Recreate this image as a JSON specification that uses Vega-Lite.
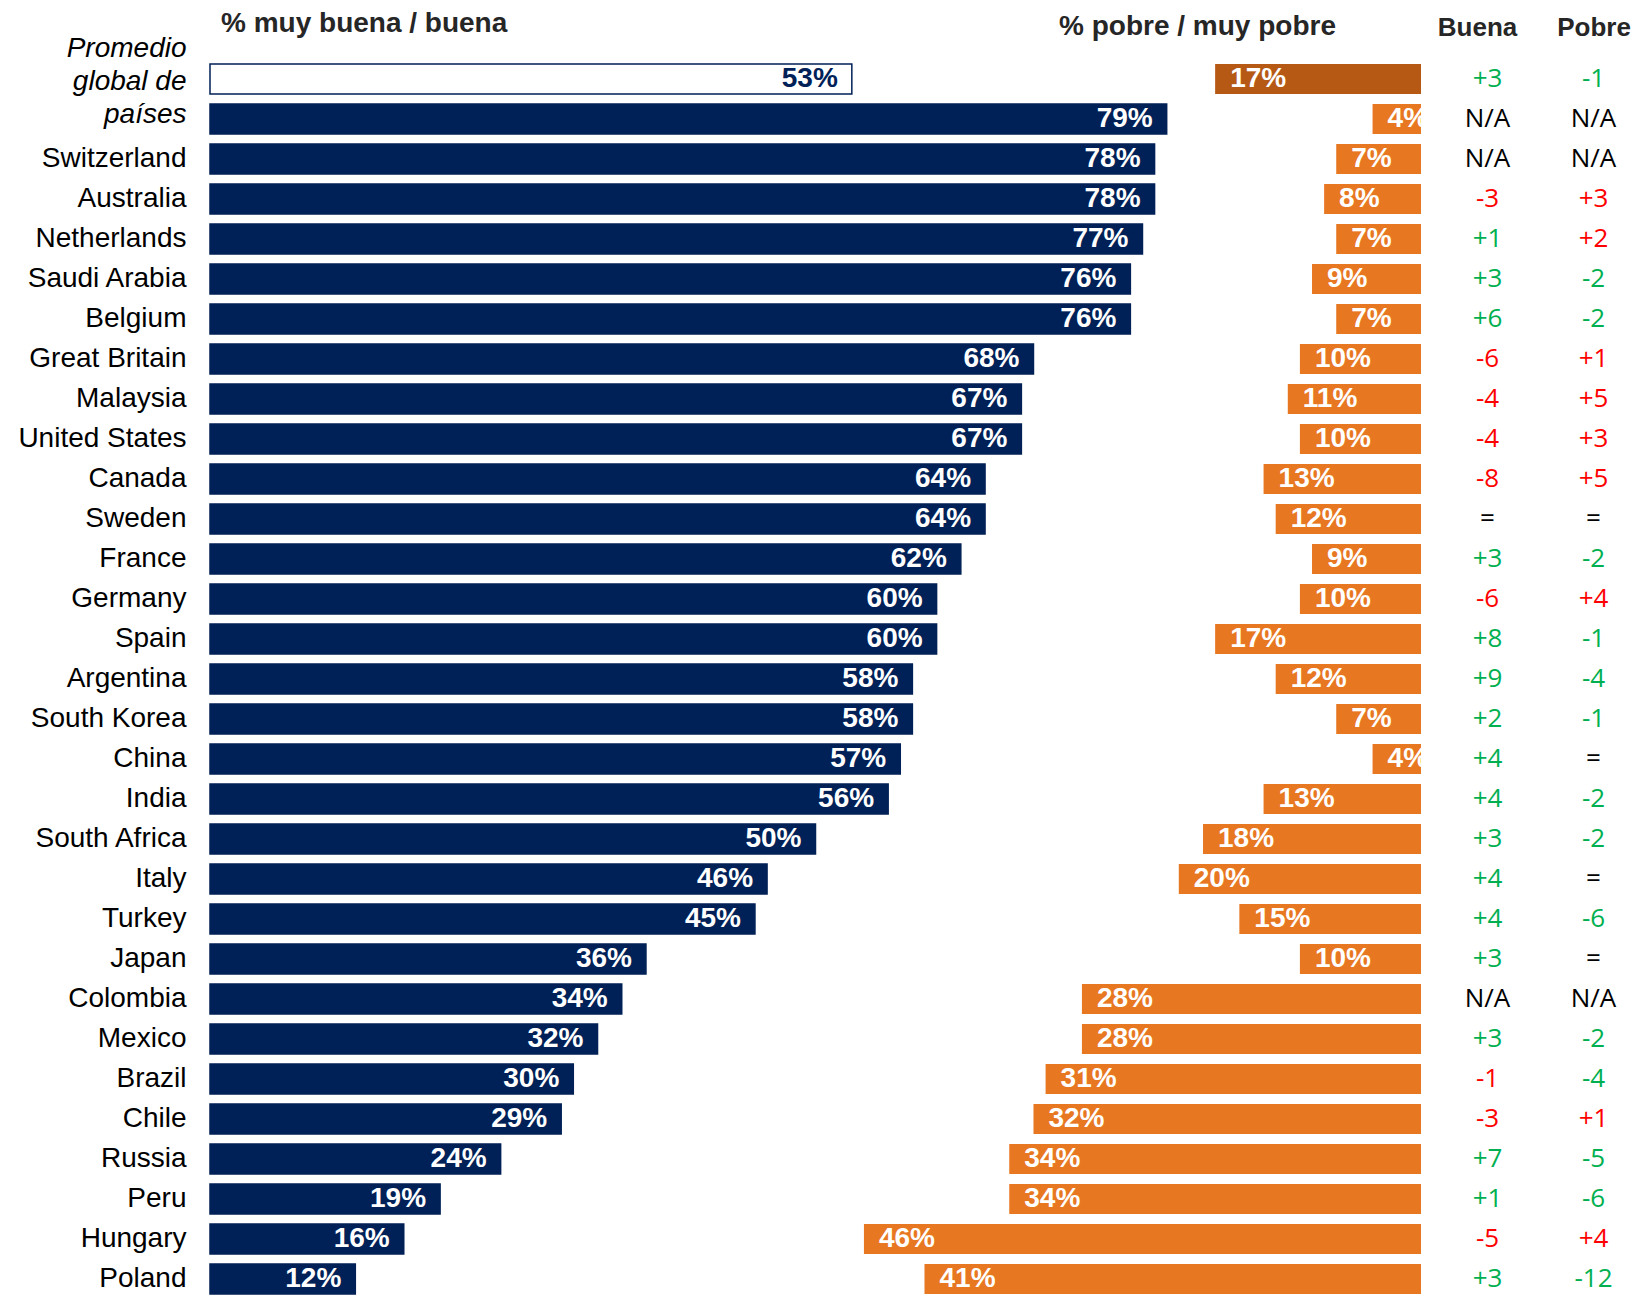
{
  "$schema": "https://vega.github.io/schema/vega-lite/v6.json",
  "autosize": {"type": "pad"},
  "padding": {"left": 17, "top": 9, "right": 0, "bottom": 0},
  "background": "white",
  "bounds": "flush",
  "spacing": 10,
  "config": {"view": {"stroke": null}, "font": "Liberation Sans"},
  "data": {
    "values": [
      {"country": "Promedio global de países", "good": 0.53, "poor": 0.17, "Buena": "+3", "Pobre": "-1"},
      {"country": " ", "good": 0.79, "poor": 0.04, "Buena": "N/A", "Pobre": "N/A"},
      {"country": "Switzerland", "good": 0.78, "poor": 0.07, "Buena": "N/A", "Pobre": "N/A"},
      {"country": "Australia", "good": 0.78, "poor": 0.08, "Buena": "-3", "Pobre": "+3"},
      {"country": "Netherlands", "good": 0.77, "poor": 0.07, "Buena": "+1", "Pobre": "+2"},
      {"country": "Saudi Arabia", "good": 0.76, "poor": 0.09, "Buena": "+3", "Pobre": "-2"},
      {"country": "Belgium", "good": 0.76, "poor": 0.07, "Buena": "+6", "Pobre": "-2"},
      {"country": "Great Britain", "good": 0.68, "poor": 0.10, "Buena": "-6", "Pobre": "+1"},
      {"country": "Malaysia", "good": 0.67, "poor": 0.11, "Buena": "-4", "Pobre": "+5"},
      {"country": "United States", "good": 0.67, "poor": 0.10, "Buena": "-4", "Pobre": "+3"},
      {"country": "Canada", "good": 0.64, "poor": 0.13, "Buena": "-8", "Pobre": "+5"},
      {"country": "Sweden", "good": 0.64, "poor": 0.12, "Buena": "=", "Pobre": "="},
      {"country": "France", "good": 0.62, "poor": 0.09, "Buena": "+3", "Pobre": "-2"},
      {"country": "Germany", "good": 0.60, "poor": 0.10, "Buena": "-6", "Pobre": "+4"},
      {"country": "Spain", "good": 0.60, "poor": 0.17, "Buena": "+8", "Pobre": "-1"},
      {"country": "Argentina", "good": 0.58, "poor": 0.12, "Buena": "+9", "Pobre": "-4"},
      {"country": "South Korea", "good": 0.58, "poor": 0.07, "Buena": "+2", "Pobre": "-1"},
      {"country": "China", "good": 0.57, "poor": 0.04, "Buena": "+4", "Pobre": "="},
      {"country": "India", "good": 0.56, "poor": 0.13, "Buena": "+4", "Pobre": "-2"},
      {"country": "South Africa", "good": 0.50, "poor": 0.18, "Buena": "+3", "Pobre": "-2"},
      {"country": "Italy", "good": 0.46, "poor": 0.20, "Buena": "+4", "Pobre": "="},
      {"country": "Turkey", "good": 0.45, "poor": 0.15, "Buena": "+4", "Pobre": "-6"},
      {"country": "Japan", "good": 0.36, "poor": 0.10, "Buena": "+3", "Pobre": "="},
      {"country": "Colombia", "good": 0.34, "poor": 0.28, "Buena": "N/A", "Pobre": "N/A"},
      {"country": "Mexico", "good": 0.32, "poor": 0.28, "Buena": "+3", "Pobre": "-2"},
      {"country": "Brazil", "good": 0.30, "poor": 0.31, "Buena": "-1", "Pobre": "-4"},
      {"country": "Chile", "good": 0.29, "poor": 0.32, "Buena": "-3", "Pobre": "+1"},
      {"country": "Russia", "good": 0.24, "poor": 0.34, "Buena": "+7", "Pobre": "-5"},
      {"country": "Peru", "good": 0.19, "poor": 0.34, "Buena": "+1", "Pobre": "-6"},
      {"country": "Hungary", "good": 0.16, "poor": 0.46, "Buena": "-5", "Pobre": "+4"},
      {"country": "Poland", "good": 0.12, "poor": 0.41, "Buena": "+3", "Pobre": "-12"}
    ]
  },
  "hconcat": [
    {
      "width": 1211,
      "height": 1240,
      "encoding": {
        "y": {
          "field": "country",
          "type": "nominal",
          "sort": null,
          "scale": {"paddingInner": 0.25, "paddingOuter": 0.125},
          "axis": {
            "title": "% muy buena / buena",
            "titleAngle": 0,
            "titleX": 10.5,
            "titleY": -27.5,
            "titleAlign": "left",
            "titleBaseline": "alphabetic",
            "titleFont": "Liberation Sans",
            "titleFontSize": 28,
            "titleFontWeight": "bold",
            "titleColor": "#262626",
            "domain": false,
            "ticks": false,
            "tickSize": 0,
            "labelPadding": 24,
            "labelFont": "Liberation Sans",
            "labelFontSize": 28,
            "labelColor": "black",
            "labelLimit": 400,
            "labelOverlap": false,
            "labelLineHeight": 33,
            "labelBaseline": "middle",
            "labelExpr": "datum.value === 'Promedio global de países' ? ['Promedio', 'global de', 'países'] : datum.value",
            "labelOffset": {"condition": {"test": "datum.value === 'Promedio global de países'", "value": -30}, "value": 0},
            "labelFontStyle": {"condition": {"test": "datum.value === 'Promedio global de países'", "value": "italic"}, "value": "normal"}
          }
        }
      },
      "layer": [
        {
          "encoding": {
            "x": {
              "field": "good",
              "type": "quantitative",
              "scale": {"domain": [0, 1], "nice": false},
              "axis": {
                "orient": "top",
                "title": "% pobre / muy pobre",
                "titleX": 987,
                "titleY": -24.4,
                "titleAlign": "center",
                "titleBaseline": "alphabetic",
                "titleFont": "Liberation Sans",
                "titleFontSize": 28,
                "titleFontWeight": "bold",
                "titleColor": "#262626",
                "labels": false,
                "ticks": false,
                "domain": false,
                "grid": false
              }
            }
          },
          "layer": [
            {
              "mark": {"type": "bar", "stroke": "#002157", "strokeWidth": 1.5},
              "encoding": {
                "fill": {"condition": {"test": "datum.country === 'Promedio global de países'", "value": "white"}, "value": "#002157"}
              }
            },
            {
              "mark": {"type": "text", "align": "right", "baseline": "middle", "dx": -14, "font": "Liberation Sans", "fontSize": 28, "fontWeight": "bold"},
              "encoding": {
                "text": {"field": "good", "type": "quantitative", "format": ".0%"},
                "color": {"condition": {"test": "datum.country === 'Promedio global de países'", "value": "#002157"}, "value": "white"}
              }
            }
          ]
        },
        {
          "encoding": {
            "x": {
              "field": "poor",
              "type": "quantitative",
              "scale": {"domain": [0, 1], "nice": false, "reverse": true},
              "axis": null
            }
          },
          "layer": [
            {
              "mark": {"type": "bar"},
              "encoding": {
                "fill": {"condition": {"test": "datum.country === 'Promedio global de países'", "value": "#B55915"}, "value": "#E87722"}
              }
            },
            {
              "mark": {"type": "text", "align": "left", "baseline": "middle", "dx": 15, "clip": true, "font": "Liberation Sans", "fontSize": 28, "fontWeight": "bold", "color": "white"},
              "encoding": {
                "text": {"field": "poor", "type": "quantitative", "format": ".0%"}
              }
            }
          ]
        }
      ],
      "resolve": {"scale": {"x": "independent"}, "axis": {"x": "independent"}}
    },
    {
      "width": 212,
      "height": 1240,
      "transform": [{"fold": ["Buena", "Pobre"], "as": ["col", "chg"]}],
      "mark": {"type": "text", "font": "Open Sans", "fontSize": 26, "baseline": "middle"},
      "encoding": {
        "y": {"field": "country", "type": "nominal", "sort": null, "scale": {"type": "point", "padding": 0.5}, "axis": null},
        "x": {
          "field": "col",
          "type": "nominal",
          "sort": ["Buena", "Pobre"],
          "scale": {"type": "point", "padding": 0.5, "align": 0.533},
          "axis": {
            "orient": "top",
            "title": null,
            "domain": false,
            "ticks": false,
            "tickSize": 0,
            "grid": false,
            "labelPadding": 24,
            "labelAngle": 0,
            "labelBaseline": "alphabetic",
            "labelOffset": {"condition": {"test": "datum.value === 'Buena'", "value": -10.5}, "value": 0},
            "labelFont": "Liberation Sans",
            "labelFontSize": 26,
            "labelFontWeight": "bold",
            "labelColor": "#262626"
          }
        },
        "text": {"field": "chg"},
        "color": {
          "condition": [
            {"test": "(datum.col === 'Buena' && indexof(datum.chg, '+') === 0) || (datum.col === 'Pobre' && indexof(datum.chg, '-') === 0)", "value": "#00B050"},
            {"test": "(datum.col === 'Buena' && indexof(datum.chg, '-') === 0) || (datum.col === 'Pobre' && indexof(datum.chg, '+') === 0)", "value": "#FF0000"}
          ],
          "value": "black"
        }
      }
    }
  ]
}
